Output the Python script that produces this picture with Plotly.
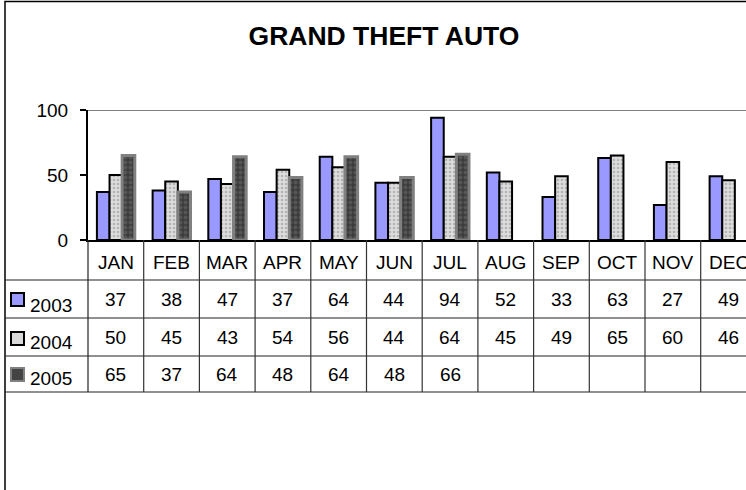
import plotly.graph_objects as go

months = ["JAN", "FEB", "MAR", "APR", "MAY", "JUN", "JUL", "AUG", "SEP", "OCT", "NOV", "DEC"]
series_names = ["2003", "2004", "2005"]
v2003 = [37, 38, 47, 37, 64, 44, 94, 52, 33, 63, 27, 49]
v2004 = [50, 45, 43, 54, 56, 44, 64, 45, 49, 65, 60, 46]
v2005 = [65, 37, 64, 48, 64, 48, 66, None, None, None, None, None]
y_ticks = [0, 50, 100]

FONT = "Liberation Sans, Arial, sans-serif"
W, H = 746, 490
L, T, B = 88, 110, 250
PW = W - L
PH = H - T - B


def px2x(px):
    return (px - L) / PW


def py2y(py):
    return (H - B - py) / PH


fig = go.Figure()
styles = [
    dict(color="#9999FF", line=dict(color="black", width=2)),
    dict(color="#DDDDDD", line=dict(color="black", width=2),
         pattern=dict(shape=".", fgcolor="#8C8C8C", size=4, solidity=0.35)),
    dict(color="#3C3C3C", line=dict(color="#808080", width=3),
         pattern=dict(shape=".", fgcolor="#6E6E6E", size=5, solidity=0.45)),
]
for name, vals, st in zip(series_names, [v2003, v2004, v2005], styles):
    fig.add_trace(go.Bar(x=months, y=vals, name=name, marker=st, showlegend=False,
                         hoverinfo="skip"))

shapes = []
annotations = []

# chart border (left & top visible)
shapes.append(dict(type="rect", xref="paper", yref="paper",
                   x0=px2x(5), x1=px2x(800), y0=py2y(1.5), y1=py2y(560),
                   line=dict(color="black", width=1.5), fillcolor="rgba(0,0,0,0)", layer="below"))
# gray line at 100
shapes.append(dict(type="line", xref="paper", yref="y", x0=0, x1=1.02, y0=100, y1=100,
                   line=dict(color="#808080", width=2)))

row_lines = [280, 318, 356, 392]
for ry in row_lines:
    shapes.append(dict(type="line", xref="paper", yref="paper", x0=px2x(5), x1=px2x(800),
                       y0=py2y(ry), y1=py2y(ry), line=dict(color="#222222", width=1.2)))
# vertical divider at left of table
shapes.append(dict(type="line", xref="paper", yref="paper", x0=0, x1=0,
                   y0=py2y(240), y1=py2y(392), line=dict(color="#222222", width=1.2)))
for k in range(1, len(months) + 1):
    shapes.append(dict(type="line", xref="x", yref="paper", x0=k - 0.5, x1=k - 0.5,
                       y0=py2y(240), y1=py2y(392), line=dict(color="#333333", width=1.2)))

# month headers
for m in months:
    annotations.append(dict(x=m, xref="x", y=py2y(262), yref="paper", text=m, showarrow=False,
                            font=dict(family=FONT, size=19, color="black"),
                            xanchor="center", yanchor="middle"))
row_centers = [299, 337, 374]
label_centers = [305, 342, 379]
key_tops = [293, 332, 368]
key_styles = [("#9999FF", "black"), ("#D8D8D8", "black"), ("#444444", "#808080")]
for name, vals, rc, lc, kt, (fc, lc_col) in zip(series_names, [v2003, v2004, v2005],
                                                  row_centers, label_centers, key_tops, key_styles):
    for m, v in zip(months, vals):
        if v is None:
            continue
        annotations.append(dict(x=m, xref="x", y=py2y(rc), yref="paper", text=str(v),
                                showarrow=False, font=dict(family=FONT, size=19, color="black"),
                                xanchor="center", yanchor="middle"))
    annotations.append(dict(x=px2x(28), xref="paper", y=py2y(lc), yref="paper", text=name,
                            showarrow=False, font=dict(family=FONT, size=19, color="black"),
                            xanchor="left", yanchor="middle"))
    shapes.append(dict(type="rect", xref="paper", yref="paper",
                       x0=px2x(11), x1=px2x(24), y0=py2y(kt), y1=py2y(kt + 13),
                       fillcolor=fc, line=dict(color=lc_col, width=2)))

fig.update_layout(
    width=W, height=H,
    margin=dict(l=L, r=0, t=T, b=B, pad=0),
    paper_bgcolor="white", plot_bgcolor="white",
    barmode="group", bargap=0.32, bargroupgap=0,
    title=dict(text="<b>GRAND THEFT AUTO</b>", x=384 / W, xref="container", xanchor="center",
               y=1 - 36 / H, yref="container", yanchor="middle",
               font=dict(family=FONT, size=26.5, color="black")),
    xaxis=dict(type="category", range=[-0.5, -0.5 + PW / 55.7], showticklabels=False,
               showgrid=False, showline=True, linecolor="black", linewidth=2, ticks="",
               zeroline=False),
    yaxis=dict(range=[0, 100], tickvals=y_ticks, showgrid=False, zeroline=False,
               showline=True, linecolor="black", linewidth=2, ticks="outside", ticklen=6,
               tickwidth=2, tickcolor="black", ticklabelstandoff=8,
               tickfont=dict(family=FONT, size=19, color="black")),
    shapes=shapes, annotations=annotations,
    font=dict(family=FONT),
)

fig.write_html(
    "out.html",
    config={"displayModeBar": False, "staticPlot": True},
    post_script="document.body.style.margin='0';document.body.style.overflow='hidden';"
                "document.documentElement.style.overflow='hidden';",
)
